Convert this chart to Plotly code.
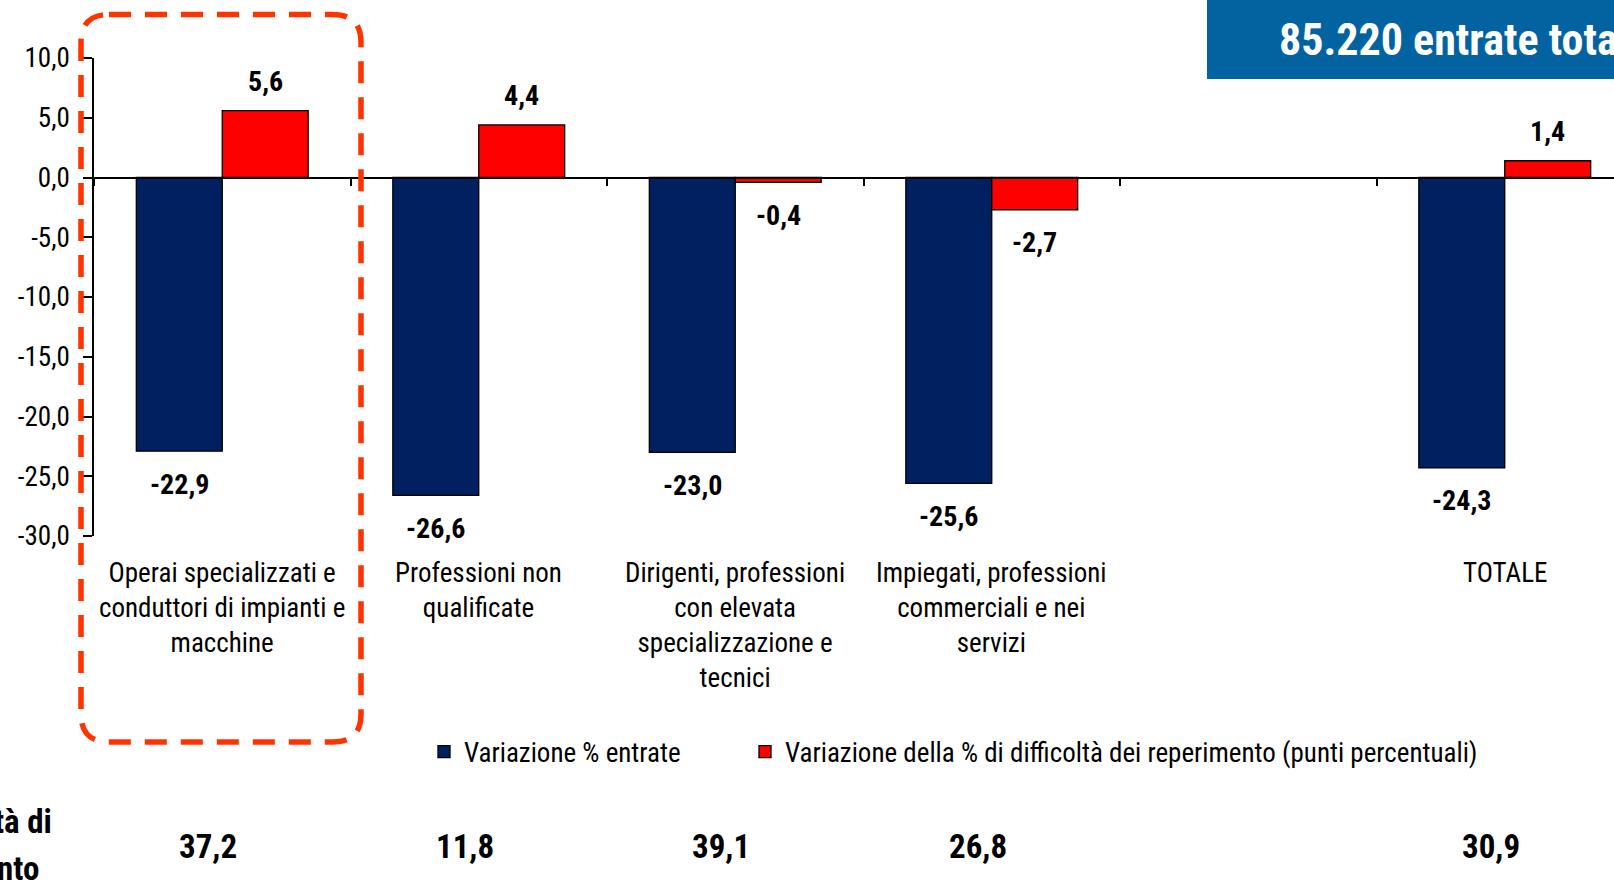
import plotly.graph_objects as go

# Categories (the fifth slot is an intentional empty spacer before the total)
categorie = [
    "Operai specializzati e<br>conduttori di impianti e<br>macchine",
    "Professioni non<br>qualificate",
    "Dirigenti, professioni<br>con elevata<br>specializzazione e<br>tecnici",
    "Impiegati, professioni<br>commerciali e nei<br>servizi",
    " ",
    "TOTALE",
]
var_entrate = [-22.9, -26.6, -23.0, -25.6, None, -24.3]
var_difficolta = [5.6, 4.4, -0.4, -2.7, None, 1.4]
quota_difficolta = [37.2, 11.8, 39.1, 26.8, None, 30.9]

y_tick_vals = [10, 5, 0, -5, -10, -15, -20, -25, -30]
y_tick_text = ["10,0", "5,0", "0,0", "-5,0", "-10,0", "-15,0", "-20,0", "-25,0", "-30,0"]

nomi_serie = ["Variazione % entrate",
              "Variazione della % di difficoltà dei reperimento (punti percentuali)"]

FONT = "Roboto Condensed, Liberation Sans Narrow, Arial Narrow, Liberation Sans, sans-serif"
BLU = "#002060"
ROSSO = "#FF0000"

# page geometry (pixels)
W, H = 1614, 883
L, R, T, B = 94, 0, 58, 347
PW, PH = W - L - R, H - T - B
X_MIN = -0.5
CAT_PX = 256.5
X_MAX = X_MIN + PW / CAT_PX
BARGAP = 0.33
HALF_BAR_PX = (1 - BARGAP) / 4 * CAT_PX


def fmt(v):
    return f"{v:.1f}".replace(".", ",")


def px_x(px):
    return (px - L) / PW


def px_y(py):
    return (H - B - py) / PH


fig = go.Figure()
fig.add_trace(go.Bar(x=categorie, y=var_entrate, name=nomi_serie[0], legend="legend",
                     marker=dict(color=BLU, line=dict(color="black", width=1.3))))
fig.add_trace(go.Bar(x=categorie, y=var_difficolta, name=nomi_serie[1], legend="legend2",
                     marker=dict(color=ROSSO, line=dict(color="black", width=1.3))))

ann = []
# value labels above / below each bar
for serie, shift in ((var_entrate, -HALF_BAR_PX), (var_difficolta, HALF_BAR_PX)):
    for c, v in zip(categorie, serie):
        if v is None:
            continue
        ann.append(dict(x=c, y=v, xref="x", yref="y", text=fmt(v), showarrow=False,
                        xshift=shift, yshift=29 if v > 0 else -33, yanchor="middle",
                        font=dict(family=FONT, size=28, color="black", weight="bold")))

# category labels under the plot area
for c in categorie:
    ann.append(dict(x=c, y=px_y(555), xref="x", yref="paper", text=c, showarrow=False,
                    yanchor="top", xanchor="center", align="center",
                    font=dict(family=FONT, size=27, color="black")))

# share of hard-to-find hires row
for c, v in zip(categorie, quota_difficolta):
    if v is None:
        continue
    ann.append(dict(x=c, y=px_y(846), xref="x", yref="paper", text=fmt(v), showarrow=False,
                    xshift=-14, yanchor="middle",
                    font=dict(family=FONT, size=33, color="black", weight="bold")))

ann.append(dict(x=px_x(54), y=px_y(822), xref="paper", yref="paper", text="Difficoltà di",
                showarrow=False, xanchor="right", yanchor="middle",
                font=dict(family=FONT, size=33, color="black", weight="bold")))
ann.append(dict(x=px_x(41), y=px_y(868), xref="paper", yref="paper", text="reperimento",
                showarrow=False, xanchor="right", yanchor="middle",
                font=dict(family=FONT, size=33, color="black", weight="bold")))

# header box
ann.append(dict(x=px_x(1277), y=px_y(40), xref="paper", yref="paper",
                text="85.220 entrate totali", showarrow=False, xanchor="left",
                yanchor="middle",
                font=dict(family=FONT, size=44, color="white", weight="bold")))

shapes = [
    dict(type="rect", xref="paper", yref="paper", x0=px_x(1207), x1=px_x(1700),
         y0=px_y(79), y1=px_y(-20), fillcolor="#0363A1", line=dict(width=0), layer="below"),
]

# dashed rounded frame around the first group
x0, x1, y0, y1, r = 81, 361, 14.5, 742, 28
pts = [
    ("M", x0 + r, y0), ("L", x1 - r, y0), ("Q", x1, y0, x1, y0 + r),
    ("L", x1, y1 - r), ("Q", x1, y1, x1 - r, y1), ("L", x0 + r, y1),
    ("Q", x0, y1, x0, y1 - r), ("L", x0, y0 + r), ("Q", x0, y0, x0 + r, y0),
]
path = ""
for p in pts:
    cmd, coords = p[0], p[1:]
    xy = []
    for i in range(0, len(coords), 2):
        xy.append(f"{px_x(coords[i]):.5f},{px_y(coords[i + 1]):.5f}")
    path += cmd + " ".join(xy) + " "
path += "Z"
shapes.append(dict(type="path", xref="paper", yref="paper", path=path,
                   line=dict(color="#FF3300", width=5.5, dash="22px,14px"),
                   fillcolor="rgba(0,0,0,0)"))

legend_common = dict(orientation="h", xanchor="left", y=px_y(752), yanchor="middle",
                     font=dict(family=FONT, size=27, color="black"),
                     bgcolor="rgba(0,0,0,0)")

fig.update_layout(
    width=W, height=H,
    margin=dict(l=L, r=R, t=T, b=B, autoexpand=False),
    paper_bgcolor="white", plot_bgcolor="white",
    barmode="group", bargap=BARGAP, bargroupgap=0,
    font=dict(family=FONT, size=27, color="black"),
    showlegend=True,
    legend=dict(x=px_x(424), **legend_common),
    legend2=dict(x=px_x(745), **legend_common),
    xaxis=dict(type="category", categoryorder="array", categoryarray=categorie,
               range=[X_MIN, X_MAX], anchor="free", position=0.75,
               showline=True, linecolor="black", linewidth=1.5,
               ticks="outside", tickson="boundaries", ticklen=8, tickcolor="black",
               tickwidth=1.5, showticklabels=False, showgrid=False, zeroline=False),
    yaxis=dict(range=[-30, 10], tickvals=y_tick_vals, ticktext=y_tick_text,
               showline=True, linecolor="black", linewidth=1.5,
               ticks="outside", ticklen=9, tickcolor="black", tickwidth=1.5,
               ticklabelstandoff=8, showgrid=False, zeroline=False,
               tickfont=dict(family=FONT, size=27, color="black")),
    annotations=ann,
    shapes=shapes,
)

fig.write_html("out.html")
